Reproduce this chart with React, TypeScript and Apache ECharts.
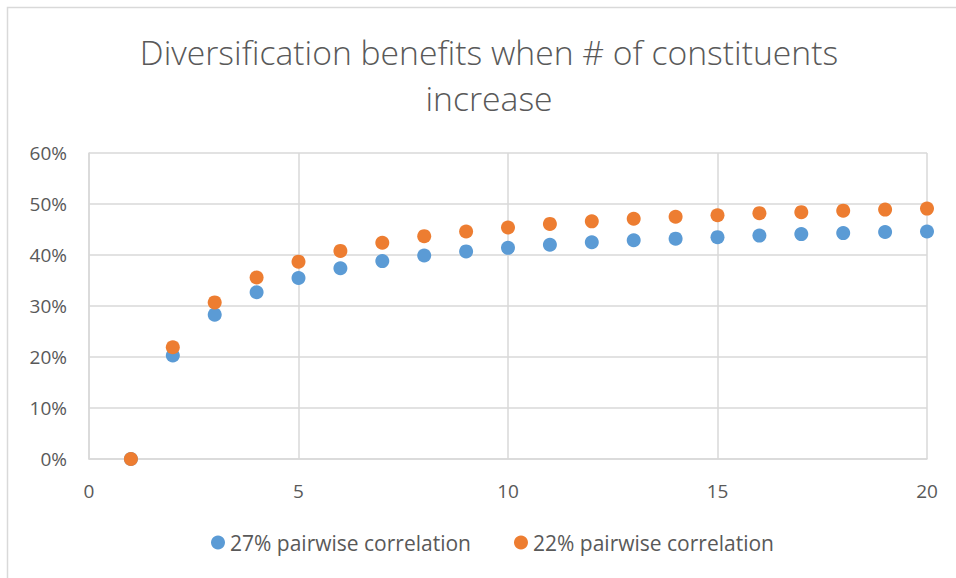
import React, { useEffect, useRef } from "react";
import * as echarts from "echarts";

const constituents = [1, 2, 3, 4, 5, 6, 7, 8, 9, 10, 11, 12, 13, 14, 15, 16, 17, 18, 19, 20];
const corr27 = [0, 20.3, 28.3, 32.7, 35.5, 37.4, 38.8, 39.9, 40.7, 41.4, 42.0, 42.5, 42.9, 43.2, 43.5, 43.8, 44.1, 44.3, 44.5, 44.6];
const corr22 = [0, 21.9, 30.7, 35.6, 38.7, 40.8, 42.4, 43.7, 44.6, 45.4, 46.1, 46.6, 47.1, 47.5, 47.8, 48.2, 48.4, 48.7, 48.9, 49.1];
const seriesNames = ["27% pairwise correlation", "22% pairwise correlation"];
const titleText = "Diversification benefits when # of constituents\nincrease";

const FONT = "'Open Sans', 'Noto Sans', sans-serif";
const TEXT = "#595959";
const GRID = "#d9d9d9";

export default function App() {
  const ref = useRef<HTMLDivElement>(null);
  useEffect(() => {
    if (!ref.current) return;
    const chart = echarts.init(ref.current, undefined, { renderer: "svg" });
    chart.setOption({
      animation: false,
      backgroundColor: "#ffffff",
      textStyle: { fontFamily: FONT },
      graphic: [
        {
          type: "rect",
          shape: { x: 7.5, y: 7.5, width: 1000, height: 700 },
          style: { fill: "none", stroke: GRID, lineWidth: 1.5 },
          silent: true,
          z: -1,
        },
        {
          type: "text",
          x: 489,
          y: 29,
          silent: true,
          style: {
            text: titleText,
            fontFamily: FONT,
            fontWeight: 300,
            fontSize: 33.7,
            lineHeight: 46,
            fill: TEXT,
            align: "center",
            verticalAlign: "top",
          },
        },
      ],
      grid: { left: 89, right: 29, top: 153, bottom: 119, containLabel: false },
      xAxis: {
        type: "value",
        min: 0,
        max: 20,
        interval: 5,
        axisLine: { show: true, lineStyle: { color: GRID, width: 1.5 } },
        axisTick: { show: false },
        splitLine: { show: true, lineStyle: { color: GRID, width: 1.5 } },
        axisLabel: { color: TEXT, fontSize: 19, fontFamily: FONT, margin: 22 },
      },
      yAxis: {
        type: "value",
        min: 0,
        max: 60,
        interval: 10,
        axisLine: { show: true, lineStyle: { color: GRID, width: 1.5 } },
        axisTick: { show: false },
        splitLine: { show: true, lineStyle: { color: GRID, width: 1.5 } },
        axisLabel: {
          color: TEXT,
          fontSize: 19,
          fontFamily: FONT,
          margin: 22,
          formatter: (v: number) => v + "%",
        },
      },
      legend: {
        bottom: 20,
        left: 206,
        itemGap: 43,
        itemWidth: 14,
        itemHeight: 14,
        icon: "circle",
        textStyle: { color: TEXT, fontSize: 21, fontFamily: FONT },
        data: seriesNames,
      },
      series: [
        {
          name: seriesNames[0],
          type: "scatter",
          symbol: "circle",
          symbolSize: 14,
          itemStyle: { color: "#5B9BD5", opacity: 1 },
          data: constituents.map((n, i) => [n, corr27[i]]),
        },
        {
          name: seriesNames[1],
          type: "scatter",
          symbol: "circle",
          symbolSize: 14,
          itemStyle: { color: "#ED7D31", opacity: 1 },
          data: constituents.map((n, i) => [n, corr22[i]]),
        },
      ],
    });
    return () => chart.dispose();
  }, []);
  return (
    <div
      ref={ref}
      style={{ position: "fixed", left: 0, top: 0, width: 956, height: 578 }}
    />
  );
}
